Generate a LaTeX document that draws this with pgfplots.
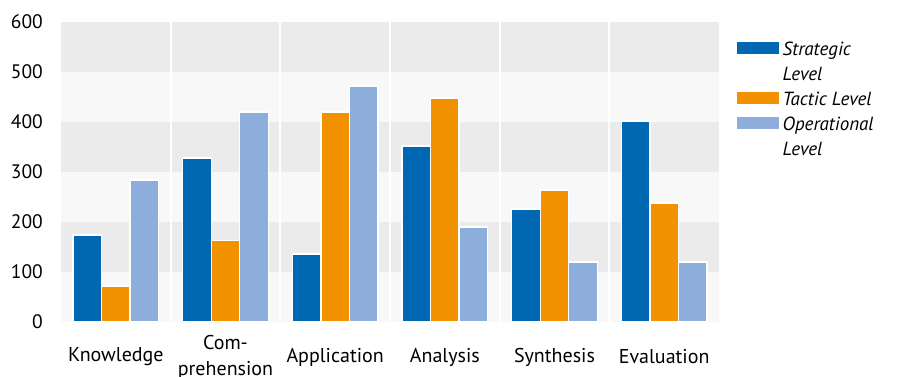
\documentclass[border=0pt]{standalone}
\usepackage{pgfplots}
\pgfplotsset{compat=1.18}
\usepackage{fontspec}
\setmainfont{PT Sans}
\definecolor{strat}{RGB}{0,104,178}
\definecolor{tact}{RGB}{243,146,0}
\definecolor{oper}{RGB}{141,173,218}
\definecolor{bandD}{RGB}{235,235,235}
\definecolor{bandL}{RGB}{248,248,248}
\pgfplotstableread{
x strat tact oper
0 174 72 284
1 328 163 420
2 136 420 472
3 352 448 190
4 226 264 120
5 402 238 120
}\datatable
\begin{document}
\begin{tikzpicture}
\begin{axis}[
  at={(61pt,54pt)}, anchor=south west,
  width=658pt, height=300pt, scale only axis,
  set layers,
  xmin=-0.5, xmax=5.5, ymin=0, ymax=600,
  axis line style={draw=none},
  major tick length=0pt,
  xtick={0,...,5},
  xticklabels={Knowledge,{Com-\\prehension},Application,Analysis,Synthesis,Evaluation},
  xticklabel style={align=center, anchor=center, yshift=-35pt, font=\fontsize{20}{26}\selectfont},
  ytick={0,100,...,600},
  yticklabel style={anchor=east, inner sep=0pt, xshift=-18pt, font=\fontsize{19.5}{20}\selectfont},
  /pgf/number format/assume math mode=true,
  ybar, bar width=0.26,
  legend style={draw=none, fill=none, inner sep=0pt,
    at={(axis description cs:1,1)}, anchor=north west, xshift=18pt, yshift=-19pt,
    font=\itshape\fontsize{19}{24}\selectfont, row sep=6pt,
    nodes={inner sep=0pt, inner xsep=3.5pt, anchor=base west, text height=14pt, text depth=5pt}},
  legend cell align=left,
  legend image code/.code={\fill[#1, draw=none] (0pt,1.5pt) rectangle (42pt,13.5pt);},
]
\fill[bandL, on layer=axis background] (axis cs:-0.5,0) rectangle (axis cs:5.5,100);
\fill[bandD, on layer=axis background] (axis cs:-0.5,100) rectangle (axis cs:5.5,200);
\fill[bandL, on layer=axis background] (axis cs:-0.5,200) rectangle (axis cs:5.5,300);
\fill[bandD, on layer=axis background] (axis cs:-0.5,300) rectangle (axis cs:5.5,400);
\fill[bandL, on layer=axis background] (axis cs:-0.5,400) rectangle (axis cs:5.5,500);
\fill[bandD, on layer=axis background] (axis cs:-0.5,500) rectangle (axis cs:5.5,600);
\draw[white, line width=2pt, on layer=axis background] (axis cs:0.5,0) -- (axis cs:0.5,600);
\draw[white, line width=2pt, on layer=axis background] (axis cs:1.5,0) -- (axis cs:1.5,600);
\draw[white, line width=2pt, on layer=axis background] (axis cs:2.5,0) -- (axis cs:2.5,600);
\draw[white, line width=2pt, on layer=axis background] (axis cs:3.5,0) -- (axis cs:3.5,600);
\draw[white, line width=2pt, on layer=axis background] (axis cs:4.5,0) -- (axis cs:4.5,600);
\addplot[fill=strat, draw=white, line width=1.2pt, bar shift=-0.26] table[x=x, y=strat] {\datatable};
\addlegendentry{Strategic}
\addlegendimage{empty legend}
\addlegendentry{Level}
\addplot[fill=tact, draw=white, line width=1.2pt, bar shift=0] table[x=x, y=tact] {\datatable};
\addlegendentry{Tactic Level}
\addplot[fill=oper, draw=white, line width=1.2pt, bar shift=0.26] table[x=x, y=oper] {\datatable};
\addlegendentry{Operational}
\addlegendimage{empty legend}
\addlegendentry{Level}
\end{axis}
\pgfresetboundingbox
\path[use as bounding box] (0pt,0pt) rectangle (901pt,376pt);
\end{tikzpicture}
\end{document}
